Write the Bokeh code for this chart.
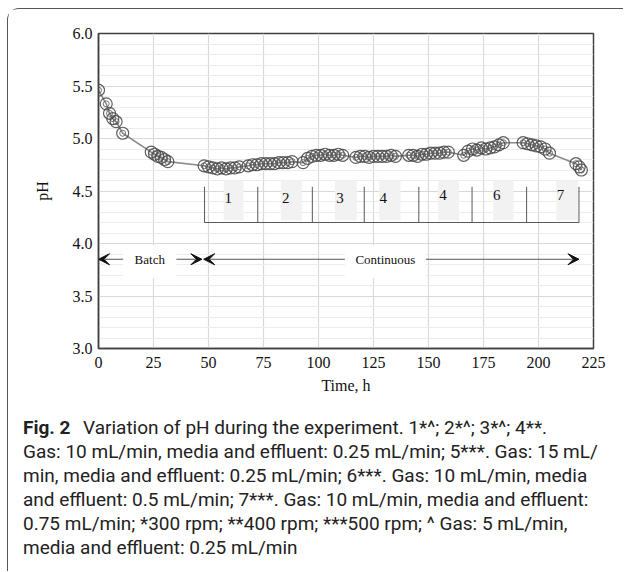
from bokeh.plotting import figure
from bokeh.layouts import column
from bokeh.models import Arrow, VeeHead, FixedTicker, Range1d, CustomJSTickFormatter
from bokeh.core.properties import value
from bokeh.embed import file_html
from bokeh.resources import INLINE

# ---------------- data ----------------
time_h = [0, 3.5, 5, 6.5, 8, 11,
          24, 25.5, 27, 28.5, 30, 31.5,
          48, 50, 52, 54, 56, 58, 60, 62, 64,
          68, 70, 72, 74, 76, 78, 80, 82, 84, 86, 88,
          93, 95, 97, 99, 101, 103, 105, 107, 109, 111,
          117, 119, 121, 123, 125, 127, 129, 131, 133, 135,
          141, 143, 145, 147, 149, 151, 153, 155, 157, 159,
          166, 168, 170, 172, 174, 176, 178, 180, 182, 184,
          193, 195, 197, 199, 201, 203, 205,
          217, 218.5, 219.5]
ph = [5.46, 5.33, 5.24, 5.19, 5.16, 5.05,
      4.87, 4.85, 4.83, 4.82, 4.80, 4.78,
      4.74, 4.73, 4.72, 4.71, 4.72, 4.71, 4.72, 4.72, 4.73,
      4.74, 4.75, 4.75, 4.76, 4.76, 4.76, 4.76, 4.77, 4.77, 4.77, 4.78,
      4.77, 4.81, 4.83, 4.84, 4.84, 4.85, 4.84, 4.84, 4.85, 4.84,
      4.82, 4.83, 4.83, 4.82, 4.83, 4.83, 4.83, 4.83, 4.84, 4.83,
      4.84, 4.84, 4.83, 4.85, 4.85, 4.86, 4.86, 4.86, 4.87, 4.87,
      4.84, 4.88, 4.90, 4.89, 4.91, 4.90, 4.91, 4.92, 4.94, 4.96,
      4.96, 4.95, 4.94, 4.93, 4.92, 4.90, 4.86,
      4.76, 4.73, 4.70]

x_ticks = [0, 25, 50, 75, 100, 125, 150, 175, 200, 225]
y_ticks = [3.0, 3.5, 4.0, 4.5, 5.0, 5.5, 6.0]
y_minor = [3.1, 3.2, 3.3, 3.4, 3.6, 3.7, 3.8, 3.9, 4.1, 4.2, 4.3, 4.4,
           4.6, 4.7, 4.8, 4.9, 5.1, 5.2, 5.3, 5.4, 5.6, 5.7, 5.8, 5.9]

# phase annotation
phase_bounds = [48.2, 72.4, 97.2, 120.8, 145.6, 169.8, 194.6, 218.4]
phase_labels = ["1", "2", "3", "4", "4", "6", "7"]
phase_label_x = [59, 85.1, 109.8, 129.4, 156.6, 181, 210]
phase_label_y = [4.43, 4.43, 4.43, 4.43, 4.46, 4.46, 4.46]
phase_box_left = [56.9, 82.9, 107.5, 127.6, 154.4, 179.4, 208.1]
phase_box_right = [65.9, 92.4, 117.4, 137.3, 163.9, 188.7, 217.9]
phase_box_bottom = 4.22
phase_box_top = 4.60
bracket_y = 4.20
bracket_tick_top = 4.54

# batch / continuous arrows
mode_labels = ["Batch", "Continuous"]
mode_start = [0, 47.8]
mode_end = [47, 218.4]
mode_text_left = [11.2, 112.0]
mode_text_right = [35.4, 148.8]
mode_y = 3.85

caption_title = "Fig. 2"
caption_first = "Variation of pH during the experiment. 1*^; 2*^; 3*^; 4**."
caption_lines = [
    "Gas: 10 mL/min, media and effluent: 0.25 mL/min; 5***. Gas: 15 mL/",
    "min, media and effluent: 0.25 mL/min; 6***. Gas: 10 mL/min, media",
    "and effluent: 0.5 mL/min; 7***. Gas: 10 mL/min, media and effluent:",
    "0.75 mL/min; *300 rpm; **400 rpm; ***500 rpm; ^ Gas: 5 mL/min,",
    "media and effluent: 0.25 mL/min",
]

SERIF = value("Liberation Serif")

p = figure(width=615, height=392, output_backend="svg", toolbar_location=None,
           x_range=Range1d(0, 225), y_range=Range1d(3, 6),
           min_border_left=90, min_border_right=30, min_border_top=24,
           min_border_bottom=53, x_axis_label="Time, h", y_axis_label="pH")
p.frame_align = False

p.outline_line_color = "#404040"
p.outline_line_width = 1.5
for ax in (p.xaxis[0], p.yaxis[0]):
    ax.axis_line_color = "#404040"
    ax.axis_line_width = 1.5
    ax.major_tick_line_color = None
    ax.minor_tick_line_color = None
    ax.major_tick_out = 0
    ax.major_tick_in = 0
    ax.major_label_text_font = "Liberation Serif"
    ax.major_label_text_font_size = "16px"
    ax.major_label_text_color = "#111"
    ax.axis_label_text_font = "Liberation Serif"
    ax.axis_label_text_font_size = "16px"
    ax.axis_label_text_font_style = "normal"
    ax.axis_label_text_color = "#111"
p.xaxis.ticker = FixedTicker(ticks=x_ticks)
p.yaxis.ticker = FixedTicker(ticks=y_ticks)
p.yaxis.formatter = CustomJSTickFormatter(code="return tick.toFixed(1);")
p.xaxis.major_label_standoff = 8
p.yaxis.major_label_standoff = 6
p.xaxis.axis_label_standoff = 6
p.yaxis.axis_label_standoff = 19

p.xgrid.ticker = FixedTicker(ticks=x_ticks)
p.ygrid.ticker = FixedTicker(ticks=y_ticks, minor_ticks=y_minor)
p.xgrid.grid_line_color = "#d9d9d9"
p.ygrid.grid_line_color = "#d9d9d9"
p.ygrid.minor_grid_line_color = "#ececec"
p.xgrid.grid_line_width = 1.2
p.ygrid.grid_line_width = 1.2

# phase boxes, brackets and labels
p.quad(left=phase_box_left, right=phase_box_right, bottom=phase_box_bottom,
       top=phase_box_top, fill_color="#f2f2f2", line_color=None)
p.segment(x0=phase_bounds, y0=[bracket_y] * len(phase_bounds),
          x1=phase_bounds, y1=[bracket_tick_top] * len(phase_bounds),
          line_color="#595959", line_width=1)
p.segment(x0=[phase_bounds[0]], y0=[bracket_y], x1=[phase_bounds[-1]], y1=[bracket_y],
          line_color="#595959", line_width=1)
p.text(x=phase_label_x, y=phase_label_y, text=phase_labels, text_font=SERIF,
       text_font_size="15px", text_align="center", text_baseline="middle",
       text_color="#111")

# batch / continuous
p.quad(left=mode_text_left, right=mode_text_right, bottom=3.67, top=3.98,
       fill_color="white", line_color=None)
p.text(x=[(a + b) / 2 for a, b in zip(mode_text_left, mode_text_right)],
       y=[mode_y] * 2, text=mode_labels, text_font=SERIF, text_font_size="13px",
       text_align="center", text_baseline="middle", text_color="#111")
for s, e, tl, tr in zip(mode_start, mode_end, mode_text_left, mode_text_right):
    for xs, xe in ((tl, s), (tr, e)):
        p.add_layout(Arrow(end=VeeHead(size=11, fill_color="#111", line_color="#111"),
                           x_start=xs, y_start=mode_y, x_end=xe, y_end=mode_y,
                           line_color="#555", line_width=1))

# data
p.line(time_h, ph, line_color="#8c8c8c", line_width=1.6)
p.scatter(time_h, ph, size=12, marker="circle", fill_color=None,
          line_color="#444444", line_width=1.2, line_alpha=0.85)
p.scatter(time_h, ph, size=6, marker="circle", fill_color=None,
          line_color="#5a5a5a", line_width=1, line_alpha=0.85)

# caption panel (pixel coordinates, y downward)
CAP_W, CAP_H = 615, 170
cap = figure(width=CAP_W, height=CAP_H, output_backend="svg", toolbar_location=None,
             x_range=Range1d(0, CAP_W), y_range=Range1d(CAP_H, 0),
             x_axis_location=None, y_axis_location=None,
             min_border=0, min_border_left=0, min_border_right=0,
             min_border_top=0, min_border_bottom=0)
cap.frame_align = False
cap.outline_line_color = None
cap.grid.visible = False
cap_x = 14.5
cap_y0 = 25.5
cap_dy = 24
cap_style = dict(text_font=value("Roboto"), text_font_size="19px", text_color="#222",
                 text_baseline="alphabetic", text_align="left")
cap.text(x=[cap_x], y=[cap_y0], text=[caption_title], text_font_style="bold",
         **cap_style)
cap.text(x=[cap_x + 60], y=[cap_y0], text=[caption_first], **cap_style)
cap.text(x=[cap_x] * len(caption_lines),
         y=[cap_y0 + cap_dy * (i + 1) for i in range(len(caption_lines))],
         text=caption_lines, **cap_style)

layout = column(p, cap, spacing=0)
layout.margin = (8, 0, 0, 7)
layout.styles = {"border-top": "1.5px solid #555", "border-left": "1.5px solid #555",
                 "border-top-left-radius": "12px"}

open("out.html", "w").write(file_html(layout, INLINE))
